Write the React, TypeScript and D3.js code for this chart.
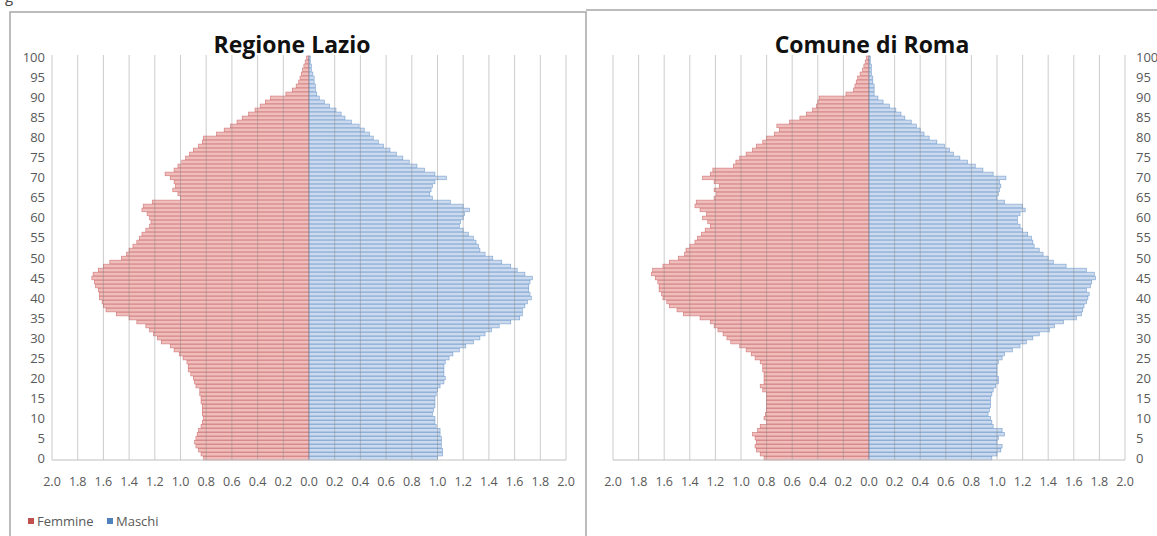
import { FC } from "react";
import * as d3 from "d3";

const WIDTH = 1157;
const HEIGHT = 536;

// età 0..100 (indice = età), valori in % sulla popolazione
const AGES = d3.range(0, 101);
const Y_TICKS = [0, 5, 10, 15, 20, 25, 30, 35, 40, 45, 50, 55, 60, 65, 70, 75, 80, 85, 90, 95, 100];
const X_TICKS = [-2, -1.8, -1.6, -1.4, -1.2, -1, -0.8, -0.6, -0.4, -0.2, 0, 0.2, 0.4, 0.6, 0.8, 1, 1.2, 1.4, 1.6, 1.8, 2];
const SERIES = ["Femmine", "Maschi"];

const LAZIO_F = [
  0.82, 0.84, 0.86, 0.88, 0.89, 0.88, 0.87, 0.86, 0.84, 0.83,
  0.82, 0.83, 0.83, 0.83, 0.84, 0.84, 0.85, 0.85, 0.88, 0.89,
  0.9, 0.92, 0.94, 0.94, 0.95, 0.98, 1.01, 1.05, 1.08, 1.15,
  1.18, 1.21, 1.24, 1.27, 1.34, 1.4, 1.5, 1.58, 1.6, 1.61,
  1.63, 1.63, 1.64, 1.66, 1.67, 1.69, 1.68, 1.64, 1.6, 1.55,
  1.46, 1.42, 1.4, 1.37, 1.34, 1.32, 1.3, 1.27, 1.24, 1.23,
  1.24, 1.26, 1.3, 1.29, 1.22, 1.0, 1.02, 1.06, 1.04, 1.05,
  1.08, 1.12, 1.05, 1.02, 0.99, 0.96, 0.93, 0.9, 0.86, 0.83,
  0.82, 0.72, 0.66, 0.61, 0.56, 0.52, 0.47, 0.42, 0.38, 0.34,
  0.3, 0.18, 0.13, 0.1, 0.08, 0.07, 0.06, 0.05, 0.04, 0.03, 0.02,
];

const LAZIO_M = [
  1.0, 1.04, 1.04, 1.03, 1.03, 1.03, 1.02, 1.02, 0.99, 0.98,
  0.98, 0.96, 0.97, 0.98, 0.98, 0.98, 0.99, 1.0, 1.02, 1.05,
  1.06, 1.05, 1.05, 1.05, 1.06, 1.09, 1.12, 1.17, 1.22, 1.28,
  1.33, 1.37, 1.42, 1.48, 1.57, 1.64, 1.66, 1.66, 1.68, 1.7,
  1.73, 1.72, 1.71, 1.71, 1.72, 1.74, 1.68, 1.62, 1.57, 1.5,
  1.43, 1.37, 1.33, 1.32, 1.3, 1.28, 1.24, 1.2, 1.17, 1.18,
  1.2, 1.21, 1.25, 1.2, 1.1, 0.96, 0.94, 0.95, 0.96, 0.98,
  1.07, 0.98, 0.9, 0.84, 0.78, 0.73, 0.68, 0.63, 0.58, 0.54,
  0.5, 0.47, 0.43, 0.39, 0.33, 0.28, 0.25, 0.21, 0.16, 0.12,
  0.08, 0.06, 0.05, 0.05, 0.04, 0.04, 0.03, 0.02, 0.02, 0.01, 0.01,
];

const ROMA_F = [
  0.82, 0.85, 0.88, 0.89, 0.88, 0.89, 0.91, 0.87, 0.85, 0.8,
  0.82, 0.81, 0.8, 0.8, 0.8, 0.8, 0.8, 0.83, 0.85, 0.82,
  0.82, 0.82, 0.83, 0.83, 0.85, 0.89, 0.92, 0.96, 1.01, 1.08,
  1.11, 1.14, 1.18, 1.21, 1.24, 1.32, 1.45, 1.5, 1.56, 1.58,
  1.61, 1.62, 1.64, 1.64, 1.65, 1.67, 1.7, 1.69, 1.61, 1.56,
  1.49, 1.44, 1.43, 1.4, 1.36, 1.34, 1.31, 1.28, 1.24, 1.26,
  1.3, 1.27, 1.32, 1.36, 1.35, 1.21, 1.19, 1.21, 1.17, 1.21,
  1.3, 1.24, 1.22, 1.06, 1.04, 1.01, 0.96, 0.91, 0.88, 0.83,
  0.8, 0.74, 0.7, 0.72, 0.62, 0.54, 0.49, 0.44, 0.41, 0.4,
  0.39, 0.18, 0.12, 0.11, 0.1, 0.09, 0.07, 0.05, 0.04, 0.03, 0.02,
];

const ROMA_M = [
  0.96, 1.0, 1.03, 1.04, 1.0, 1.01, 1.06, 1.04, 0.97, 0.96,
  0.95, 0.93, 0.94, 0.95, 0.95, 0.95, 0.96, 0.97, 0.99, 1.01,
  1.01, 1.0, 1.0, 1.0, 1.01, 1.04, 1.06, 1.12, 1.18, 1.23,
  1.28, 1.33, 1.41, 1.45, 1.52, 1.62, 1.66, 1.67, 1.68, 1.7,
  1.71, 1.72, 1.7, 1.73, 1.74, 1.77, 1.76, 1.7, 1.54, 1.44,
  1.4, 1.36, 1.33, 1.29, 1.28, 1.27, 1.24, 1.2, 1.18, 1.16,
  1.16, 1.18, 1.22, 1.2, 1.06, 1.0, 1.01, 1.02, 1.03, 1.02,
  1.07, 0.97, 0.89, 0.83, 0.77, 0.71, 0.66, 0.63, 0.59, 0.53,
  0.47, 0.43, 0.4, 0.37, 0.33, 0.28, 0.25, 0.21, 0.16, 0.11,
  0.07, 0.04, 0.04, 0.04, 0.03, 0.03, 0.02, 0.02, 0.02, 0.01, 0.01,
];

const FONT = "'Open Sans', 'DejaVu Sans', sans-serif";
const LABEL = "#595959";
const F_FILL = "#efbdbc";
const F_LINE = "#c0504d";
const M_FILL = "#cbdaee";
const M_LINE = "#4f81bd";

interface PyramidProps {
  title: string;
  titleX: number;
  females: number[];
  males: number[];
  x0: number;
  x1: number;
  axisSide: "left" | "right";
}

const y = d3
  .scaleBand<number>()
  .domain(AGES.slice().reverse())
  .range([56, 460])
  .paddingInner(0.08);

const Pyramid: FC<PyramidProps> = ({ title, titleX, females, males, x0, x1, axisSide }) => {
  const x = d3.scaleLinear().domain([-2, 2]).range([x0, x1]);
  const bw = y.bandwidth();
  const fmt = d3.format(".1f");

  return (
    <g>
      <text x={titleX} y={53} textAnchor="middle" fontFamily={FONT} fontWeight="bold" fontSize={23} fill="#111">
        {title}
      </text>

      {AGES.map((a) => (
        <rect
          key={"f" + a}
          x={x(-females[a])}
          y={y(a)}
          width={x(0) - x(-females[a])}
          height={bw}
          fill={F_FILL}
          stroke={F_LINE}
          strokeOpacity={0.7}
          strokeWidth={0.6}
        />
      ))}
      {AGES.map((a) => (
        <rect
          key={"m" + a}
          x={x(0)}
          y={y(a)}
          width={x(males[a]) - x(0)}
          height={bw}
          fill={M_FILL}
          stroke={M_LINE}
          strokeOpacity={0.7}
          strokeWidth={0.6}
        />
      ))}

      {X_TICKS.map((t) => (
        <line key={"g" + t} x1={x(t)} x2={x(t)} y1={55} y2={460} stroke="#7f7f7f" strokeOpacity={0.4} />
      ))}
      <line x1={x0} x2={x1} y1={460} y2={460} stroke="#bfbfbf" />

      {X_TICKS.map((t) => (
        <text key={"t" + t} x={x(t)} y={486} textAnchor="middle" fontFamily={FONT} fontSize={12.5} fill={LABEL}>
          {fmt(Math.abs(t))}
        </text>
      ))}

      {Y_TICKS.map((a) => (
        <text
          key={"y" + a}
          x={axisSide === "left" ? x0 - 7 : x1 + 11}
          y={(y(a) ?? 0) + bw / 2 + 4.5}
          textAnchor={axisSide === "left" ? "end" : "start"}
          fontFamily={FONT}
          fontSize={13}
          fill={LABEL}
        >
          {a}
        </text>
      ))}
    </g>
  );
};

const App: FC = () => {
  return (
    <svg
      width={WIDTH}
      height={HEIGHT}
      style={{ position: "absolute", left: 0, top: 0, background: "#fff" }}
    >
      <rect x={0} y={0} width={WIDTH} height={HEIGHT} fill="#fff" />
      <text x={5} y={2} fontFamily={FONT} fontSize={15} fill="#444">g</text>

      {/* cornici */}
      <path d={`M10,${HEIGHT} V12 H586 V${HEIGHT}`} fill="none" stroke="#a6a6a6" strokeWidth={1.5} />
      <path d={`M586,10 H${WIDTH}`} fill="none" stroke="#a6a6a6" strokeWidth={1.5} />

      <Pyramid title="Regione Lazio" titleX={292} females={LAZIO_F} males={LAZIO_M} x0={52} x1={566} axisSide="left" />
      <Pyramid title="Comune di Roma" titleX={872} females={ROMA_F} males={ROMA_M} x0={613} x1={1125} axisSide="right" />

      {/* legenda */}
      <rect x={28} y={518} width={6} height={6} fill="#c0504d" />
      <text x={37} y={526} fontFamily={FONT} fontSize={13} fill={LABEL}>{SERIES[0]}</text>
      <rect x={107} y={518} width={6} height={6} fill="#4f81bd" />
      <text x={116} y={526} fontFamily={FONT} fontSize={13} fill={LABEL}>{SERIES[1]}</text>
    </svg>
  );
};

export default App;
